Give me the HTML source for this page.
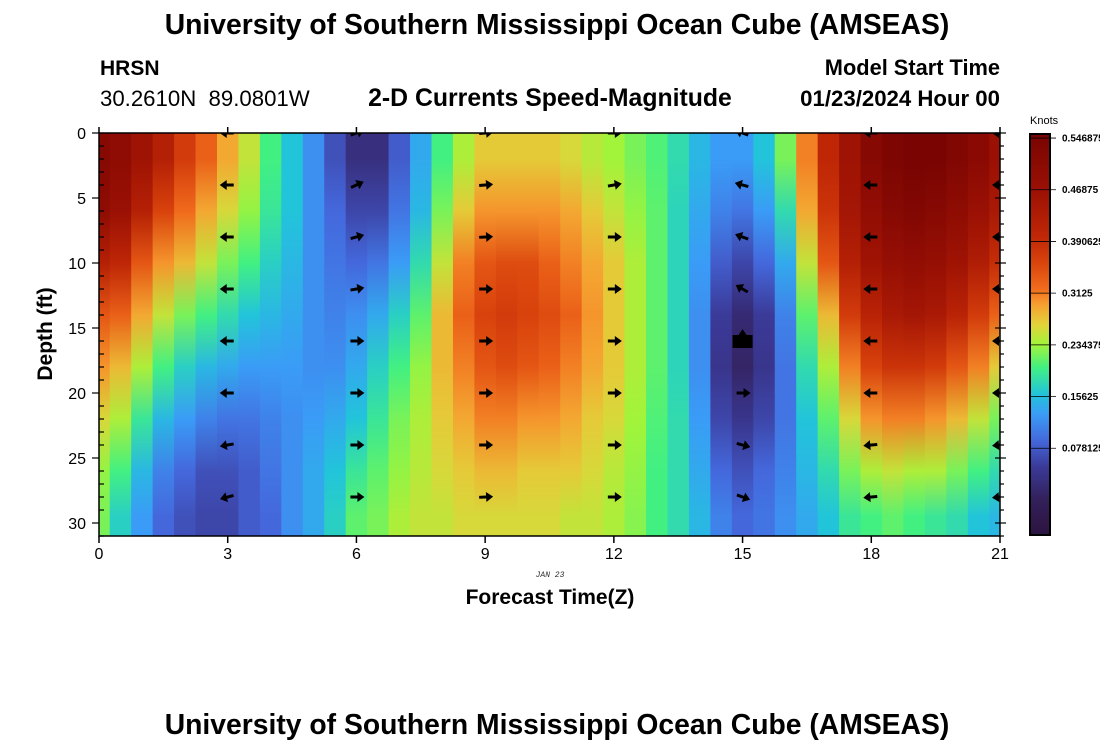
<!DOCTYPE html>
<html><head><meta charset="utf-8">
<style>
body{margin:0;background:#fff;width:1100px;height:750px;overflow:hidden;font-family:"Liberation Sans",sans-serif}
svg{display:block}
</style></head>
<body>
<svg id="chart" width="1100" height="750" xmlns="http://www.w3.org/2000/svg">
<defs id="defs"><clipPath id="plotclip"><rect x="99" y="133" width="901" height="403"/></clipPath>
<linearGradient id="cbgrad" x1="0" y1="1" x2="0" y2="0"></linearGradient></defs>
<text x="557" y="34" text-anchor="middle" font-size="28.3" font-weight="bold">University of Southern Mississippi Ocean Cube (AMSEAS)</text>
<text x="100" y="75" font-size="21" font-weight="bold">HRSN</text>
<text x="100" y="106" font-size="22.2" xml:space="preserve">30.2610N  89.0801W</text>
<text x="550" y="106" text-anchor="middle" font-size="24.8" font-weight="bold">2-D Currents Speed-Magnitude</text>
<text x="1000" y="75" text-anchor="end" font-size="21.8" font-weight="bold">Model Start Time</text>
<text x="1000" y="106" text-anchor="end" font-size="22.2" font-weight="bold">01/23/2024 Hour 00</text>
<g id="cells" clip-path="url(#plotclip)"></g>
<g id="arrows" clip-path="url(#plotclip)"></g>
<g id="axes"></g>
<text x="0" y="0" transform="translate(52,334) rotate(-90)" text-anchor="middle" font-size="21" font-weight="bold">Depth (ft)</text>
<text x="550" y="577" text-anchor="middle" font-size="8" font-style="italic" font-family="Liberation Mono, monospace" fill="#333">JAN 23</text>
<text x="550" y="604" text-anchor="middle" font-size="21" font-weight="bold">Forecast Time(Z)</text>
<text x="1030" y="124" font-size="11">Knots</text>
<g id="colorbar"></g>
<text x="557" y="734" text-anchor="middle" font-size="28.3" font-weight="bold">University of Southern Mississippi Ocean Cube (AMSEAS)</text>
</svg>
<script>
// times (hours) of each column, depth bands (ft)
const times = [];
for (let i = 0; i <= 42; i++) times.push(i / 2);
const bandTop = [0, 4, 8, 12, 16, 20, 24, 28];
const bandBottom = [4, 8, 12, 16, 20, 24, 28, 31];
// speed (knots) per column, per depth band
const speeds = [
[0.52,0.50,0.42,0.34,0.30,0.26,0.23,0.22],
[0.50,0.47,0.40,0.33,0.28,0.24,0.20,0.17],
[0.46,0.42,0.34,0.29,0.24,0.19,0.15,0.13],
[0.42,0.36,0.30,0.25,0.20,0.15,0.11,0.09],
[0.37,0.32,0.28,0.22,0.17,0.13,0.09,0.07],
[0.33,0.29,0.25,0.20,0.15,0.11,0.07,0.06],
[0.29,0.26,0.22,0.18,0.14,0.10,0.07,0.06],
[0.25,0.23,0.20,0.16,0.13,0.10,0.08,0.08],
[0.20,0.19,0.17,0.15,0.13,0.11,0.10,0.09],
[0.16,0.16,0.15,0.14,0.13,0.12,0.12,0.12],
[0.12,0.12,0.12,0.12,0.12,0.13,0.14,0.14],
[0.07,0.09,0.10,0.11,0.12,0.14,0.16,0.17],
[0.03,0.06,0.09,0.12,0.14,0.16,0.19,0.21],
[0.03,0.06,0.10,0.14,0.17,0.19,0.21,0.22],
[0.08,0.10,0.13,0.17,0.20,0.22,0.23,0.24],
[0.14,0.15,0.18,0.21,0.23,0.24,0.245,0.25],
[0.20,0.22,0.25,0.28,0.28,0.27,0.26,0.25],
[0.24,0.27,0.31,0.33,0.31,0.29,0.27,0.26],
[0.27,0.30,0.34,0.36,0.34,0.31,0.28,0.26],
[0.27,0.30,0.35,0.37,0.35,0.31,0.28,0.26],
[0.27,0.30,0.35,0.36,0.34,0.30,0.27,0.26],
[0.27,0.30,0.33,0.35,0.33,0.30,0.27,0.26],
[0.26,0.29,0.31,0.33,0.31,0.29,0.27,0.25],
[0.245,0.27,0.29,0.30,0.29,0.27,0.26,0.25],
[0.235,0.25,0.27,0.27,0.27,0.26,0.245,0.24],
[0.22,0.23,0.24,0.24,0.24,0.235,0.23,0.225],
[0.205,0.21,0.21,0.21,0.21,0.205,0.20,0.20],
[0.18,0.175,0.175,0.175,0.175,0.18,0.18,0.18],
[0.15,0.14,0.13,0.12,0.12,0.13,0.14,0.15],
[0.13,0.11,0.08,0.05,0.04,0.06,0.09,0.11],
[0.13,0.10,0.06,0.02,0.01,0.04,0.07,0.09],
[0.16,0.13,0.09,0.05,0.04,0.06,0.09,0.10],
[0.22,0.18,0.14,0.11,0.10,0.10,0.11,0.12],
[0.31,0.29,0.25,0.21,0.18,0.16,0.15,0.14],
[0.40,0.38,0.34,0.28,0.24,0.21,0.18,0.16],
[0.46,0.45,0.42,0.37,0.31,0.26,0.22,0.19],
[0.52,0.49,0.46,0.41,0.36,0.30,0.24,0.20],
[0.54,0.52,0.48,0.44,0.38,0.31,0.25,0.21],
[0.55,0.53,0.49,0.45,0.38,0.31,0.24,0.20],
[0.55,0.52,0.48,0.44,0.37,0.30,0.24,0.19],
[0.53,0.50,0.46,0.41,0.34,0.28,0.22,0.18],
[0.51,0.47,0.43,0.37,0.31,0.25,0.20,0.16],
[0.47,0.44,0.39,0.33,0.27,0.22,0.18,0.15]
];
// arrows: stations, depths, direction (deg, 0 = east, ccw positive; null = blob)
const arrowTimes = [3, 6, 9, 12, 15, 18, 21];
const arrowDepths = [0, 4, 8, 12, 16, 20, 24, 28];
const arrowDirs = [
[180,180,180,180,180,180,190,195],
[20,25,15,10,0,0,0,0],
[5,5,3,0,0,0,0,3],
[0,10,0,0,0,0,0,0],
[160,165,160,150,null,0,-15,-20],
[180,180,180,180,180,180,185,185],
[180,180,180,180,180,180,185,185]
];
const xTicks = [0,3,6,9,12,15,18,21];
const yTicks = [0,5,10,15,20,25,30];
const cbTicks = ["0.546875","0.46875","0.390625","0.3125","0.234375","0.15625","0.078125"];

const NS = "http://www.w3.org/2000/svg";
const x = t => 99 + t * (901 / 21);
const y = d => 133 + d * (403 / 31);
const vmin = -0.053, vmax = 0.553;
const stops = [[-0.053,"#2c1440"],[0.0,"#33205a"],[0.05,"#3b3a98"],[0.09,"#4468dc"],[0.13,"#3a9cf6"],[0.16,"#22c4da"],[0.20,"#42f082"],[0.235,"#a2f43a"],[0.265,"#e2d23a"],[0.295,"#f6a030"],[0.32,"#f06a1c"],[0.36,"#d8420c"],[0.40,"#be2606"],[0.47,"#9a1004"],[0.553,"#780402"]];
function hex(h){return [1,3,5].map(i=>parseInt(h.substr(i,2),16));}
function color(v){
  if (v <= stops[0][0]) return stops[0][1];
  for (let i = 1; i < stops.length; i++) {
    if (v <= stops[i][0]) {
      const a = stops[i-1], b = stops[i], f = (v - a[0]) / (b[0] - a[0]);
      const ca = hex(a[1]), cb = hex(b[1]);
      return "rgb(" + ca.map((c,k)=>Math.round(c + (cb[k]-c)*f)).join(",") + ")";
    }
  }
  return stops[stops.length-1][1];
}
function el(tag, attrs, parent){const e=document.createElementNS(NS,tag);for(const k in attrs)e.setAttribute(k,attrs[k]);parent.appendChild(e);return e;}

const defs = document.getElementById("defs");
const cells = document.getElementById("cells");
const step = times[1] - times[0];
const yTop = y(0), yBot = y(31);
times.forEach((t, i) => {
  const x0 = x(Math.max(0, t - step/2)), x1 = x(Math.min(21, t + step/2));
  const g = el("linearGradient", {id:"col"+i, x1:0, y1:0, x2:0, y2:1}, defs);
  bandTop.forEach((d, j) => {
    const mid = (y((d + bandBottom[j]) / 2) - yTop) / (yBot - yTop);
    el("stop", {offset:mid.toFixed(4), "stop-color":color(speeds[i][j])}, g);
  });
  const r = el("rect", {x:x0, y:yTop, width:x1-x0+0.5, height:yBot-yTop, fill:"url(#col"+i+")"}, cells);
  
  
});

const arrows = document.getElementById("arrows");
arrowTimes.forEach((t, i) => {
  arrowDepths.forEach((d, j) => {
    const dir = arrowDirs[i][j];
    const cx = x(t), cy = y(d);
    if (dir === null) {
      const b = el("path", {d:`M${cx-10},${cy-6} L${cx-4},${cy-6} L${cx},${cy-12} L${cx+4},${cy-6} L${cx+10},${cy-6} L${cx+10},${cy+7} L${cx-10},${cy+7} Z`, fill:"#000"}, arrows);
      
      
      return;
    }
    const g = el("g", {transform:`translate(${cx},${cy}) rotate(${-dir})`}, arrows);
    
    
    el("line", {x1:-6, y1:0, x2:3, y2:0, stroke:"#000", "stroke-width":3}, g);
    el("path", {d:"M8,0 L1,-5 L1,5 Z", fill:"#000"}, g);
  });
});

const axes = document.getElementById("axes");
el("rect", {x:99, y:133, width:901, height:403, fill:"none", stroke:"#000", "stroke-width":1.5}, axes);
xTicks.forEach(t => {
  el("line", {x1:x(t), y1:127, x2:x(t), y2:133, stroke:"#000", "stroke-width":1.5}, axes);
  el("line", {x1:x(t), y1:536, x2:x(t), y2:543, stroke:"#000", "stroke-width":1.5}, axes);
  const l = el("text", {x:x(t), y:559, "text-anchor":"middle", "font-size":16}, axes);
  l.textContent = t;
  
  
});
for (let d = 0; d <= 31; d++) {
  const major = d % 5 === 0;
  el("line", {x1:major?92:99, y1:y(d), x2:major?99:104, y2:y(d), stroke:"#000", "stroke-width":1.2}, axes);
  el("line", {x1:major?995:1000, y1:y(d), x2:major?1006:1004, y2:y(d), stroke:"#000", "stroke-width":1.2}, axes);
}
yTicks.forEach(d => {
  const l = el("text", {x:86, y:y(d)+6, "text-anchor":"end", "font-size":16}, axes);
  l.textContent = d;
  
  
});

const cb = document.getElementById("colorbar");
const cbTop = 134, cbBot = 535;
const cbY = v => cbBot - (v - vmin) / (vmax - vmin) * (cbBot - cbTop);
const grad = document.getElementById("cbgrad");
stops.forEach(s => el("stop", {offset:((s[0]-vmin)/(vmax-vmin)).toFixed(4), "stop-color":s[1]}, grad));
el("rect", {x:1030, y:cbTop, width:20, height:cbBot-cbTop, fill:"url(#cbgrad)", stroke:"#000", "stroke-width":2}, cb);
cbTicks.forEach(s => {
  const v = parseFloat(s), yy = cbY(v);
  el("line", {x1:1030, y1:yy, x2:1056, y2:yy, stroke:"#000", "stroke-width":0.8}, cb);
  const l = el("text", {x:1062, y:yy+3.5, "font-size":10, "font-weight":"bold"}, cb);
  l.textContent = s;
  
  
});
</script>
</body></html>
